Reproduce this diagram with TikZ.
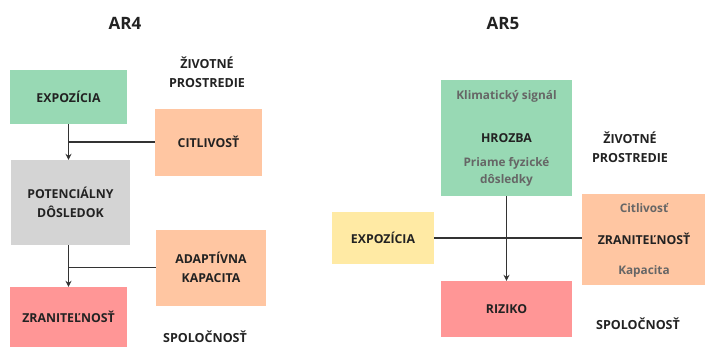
\documentclass[tikz,border=0pt]{standalone}
\usepackage{fontspec}
\setmainfont{Open Sans}
\usetikzlibrary{arrows.meta}
\definecolor{cgreen}{HTML}{98D9B4}
\definecolor{corange}{HTML}{FFC6A2}
\definecolor{cgray}{HTML}{D4D4D4}
\definecolor{cred}{HTML}{FF9696}
\definecolor{cyellow}{HTML}{FFEAA4}
\definecolor{ctext}{HTML}{222222}
\definecolor{csub}{HTML}{666666}
\definecolor{cline}{HTML}{333333}
\begin{document}
\begin{tikzpicture}[x=1pt,y=-1pt,
  box/.style={rectangle,inner sep=0pt,text=ctext,font=\bfseries\fontsize{12.3}{19}\selectfont,align=center},
  title/.style={text=ctext,font=\bfseries\fontsize{17}{20}\selectfont},
  tag/.style={text=ctext,font=\bfseries\fontsize{12.5}{19}\selectfont,align=center},
  sub/.style={text=csub,font=\bfseries\fontsize{11.8}{17}\selectfont,align=center},
  link/.style={draw=cline,line width=1.7pt},
  arr/.style={link,-{Stealth[length=6pt,width=6pt]}}]
\clip (0,0) rectangle (705,346);
\fill[white] (0,0) rectangle (705,346);

% AR4
\node[title] (t4) at (125,23) {AR4};
\node[tag] (env4) at (207,72.5) {ŽIVOTNÉ\\PROSTREDIE};
\node[box,fill=cgreen,minimum width=117pt,minimum height=54pt] (expo4) at (68.5,97) {EXPOZÍCIA};
\node[box,fill=corange,minimum width=107pt,minimum height=67pt] (citl4) at (208.5,142) {CITLIVOSŤ};
\node[box,fill=cgray,minimum width=119pt,minimum height=85pt] (pot4) at (70.5,202.5) {POTENCIÁLNY\\DÔSLEDOK};
\node[box,fill=corange,minimum width=110pt,minimum height=76pt] (adap4) at (211,267.5) {ADAPTÍVNA\\KAPACITA};
\node[box,fill=cred,minimum width=117pt,minimum height=60pt] (zran4) at (68.5,317) {ZRANITEĽNOSŤ};
\node[tag] (soc4) at (205,337) {SPOLOČNOSŤ};

\draw[arr] (expo4.south) -- (expo4.south |- pot4.north);
\draw[link] (citl4.west) -- (citl4.west -| expo4.south);
\draw[arr] (expo4.south |- pot4.south) -- (expo4.south |- zran4.north);
\draw[link] (adap4.west) -- (adap4.west -| expo4.south);

% AR5
\node[title] (t5) at (503,23) {AR5};
\node[box,fill=cgreen,minimum width=131pt,minimum height=116pt] (haz5) at (506.5,138) {HROZBA};
\node[sub] (sig5) at (506.5,96) {Klimatický signál};
\node[sub] (dir5) at (506.5,171.5) {Priame fyzické\\dôsledky};
\node[tag] (env5) at (630,147) {ŽIVOTNÉ\\PROSTREDIE};
\node[box,fill=cyellow,minimum width=102pt,minimum height=52pt] (expo5) at (383,238) {EXPOZÍCIA};
\node[box,fill=corange,minimum width=124pt,minimum height=91pt] (zran5) at (644,239) {ZRANITEĽNOSŤ};
\node[sub] (cit5) at (644,208) {Citlivosť};
\node[sub] (kap5) at (644,271) {Kapacita};
\node[box,fill=cred,minimum width=131pt,minimum height=56pt] (risk5) at (506.5,309) {RIZIKO};
\node[tag] (soc5) at (638,324) {SPOLOČNOSŤ};

\draw[link] (expo5.east) -- (expo5.east -| zran5.west);
\draw[arr] (haz5.south) -- (risk5.north);
\end{tikzpicture}
\end{document}
